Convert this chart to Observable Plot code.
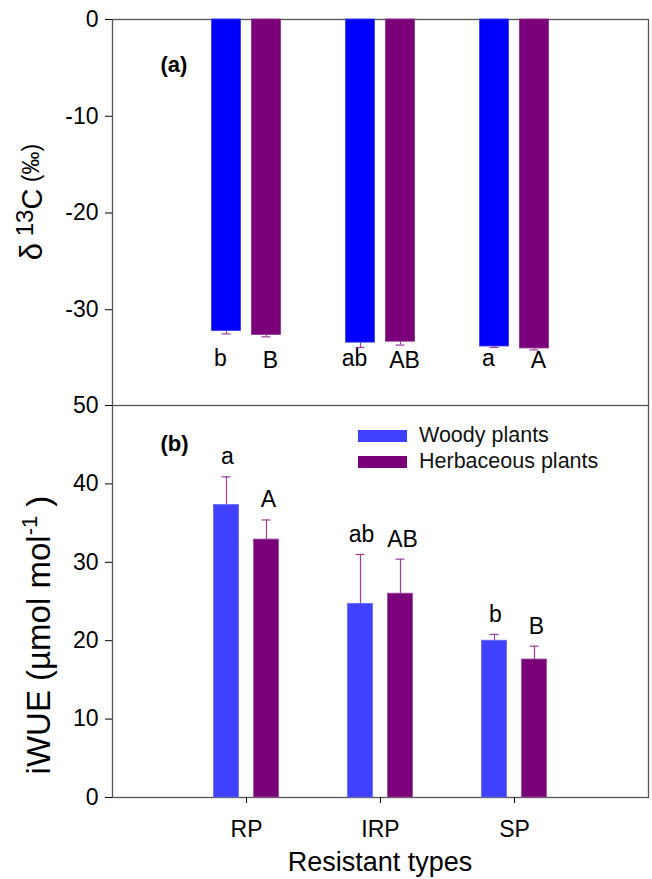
<!DOCTYPE html>
<html>
<head>
<meta charset="utf-8">
<script src="https://cdn.jsdelivr.net/npm/d3@7"></script>
<script src="https://cdn.jsdelivr.net/npm/@observablehq/plot@0.6"></script>
<style>
  body { margin: 0; background: white; }
  #wrap { position: relative; width: 652px; height: 879px; font-family: "Liberation Sans", Arial, sans-serif; }
  #wrap svg { position: absolute; left: 0; overflow: visible; }
  .leg { position: absolute; left: 358px; display: flex; align-items: center; font-size: 21.5px; color: #111; white-space: nowrap; }
  .sw { width: 49px; height: 12px; margin-right: 12px; }
</style>
</head>
<body>
<div id="wrap"></div>
<script>
// ---- data ----
const categories = ["RP", "IRP", "SP"];
const seriesNames = ["Woody plants", "Herbaceous plants"];

// panel (a): δ13C (‰)
const d13cWoody = [-32.2, -33.4, -33.8];
const d13cWoodySE = [0.3, 0.5, 0.1];
const d13cHerb = [-32.6, -33.3, -34.0];
const d13cHerbSE = [0.2, 0.35, 0.15];
const d13cWoodyLetters = ["b", "ab", "a"];
const d13cHerbLetters = ["B", "AB", "A"];

// panel (b): iWUE (µmol mol-1)
const wueWoody = [37.3, 24.7, 20.0];
const wueWoodySE = [3.6, 6.3, 0.8];
const wueHerb = [32.9, 26.0, 17.6];
const wueHerbSE = [2.5, 4.4, 1.7];
const wueWoodyLetters = ["a", "ab", "b"];
const wueHerbLetters = ["A", "AB", "B"];

const yTicksA = [0, -10, -20, -30];
const yTicksB = [0, 10, 20, 30, 40, 50];

// ---- helpers ----
const rows = (means, ses, letters) => categories.map((c, i) => ({cat: c, mean: means[i], se: ses[i], letter: letters[i]}));
const aW = rows(d13cWoody, d13cWoodySE, d13cWoodyLetters);
const aH = rows(d13cHerb, d13cHerbSE, d13cHerbLetters);
const bW = rows(wueWoody, wueWoodySE, wueWoodyLetters);
const bH = rows(wueHerb, wueHerbSE, wueHerbLetters);

const W = 652, ML = 112, MR = 4;
const band = (W - ML - MR) / (categories.length + 1);
const off = 20;
const errColor = "#9c3f9c";
const capW = 9;
const font = "'Liberation Sans', Arial, sans-serif";
const baseStyle = {fontFamily: font, fontSize: "23px", color: "black", background: "white", overflow: "visible"};
const xScale = {type: "band", domain: categories, paddingOuter: 0.5, paddingInner: 0, axis: null};
const fmt = d => String(d);

function seriesMarks(data, fill, dx, barW, dir, stroke) {
  const tip = d => d.mean + dir * d.se;
  const side = (band - barW) / 2;
  const capSide = (band - capW) / 2;
  return [
    Plot.barY(data, {x: "cat", y: "mean", fill, stroke: stroke, strokeWidth: 0.8, insetLeft: side, insetRight: side, dx}),
    Plot.ruleX(data, {x: "cat", y1: "mean", y2: tip, stroke: errColor, strokeWidth: 1.2, dx}),
    Plot.tickY(data, {x: "cat", y: tip, stroke: errColor, strokeWidth: 1.2, insetLeft: capSide, insetRight: capSide, dx})
  ];
}

const hasAxisMarks = typeof Plot.axisY === "function";

// ---- panel (a) ----
const plotA = Plot.plot({
  width: W, height: 406,
  marginTop: 19, marginBottom: 0, marginLeft: ML, marginRight: MR,
  style: baseStyle,
  x: xScale,
  y: {domain: [-40, 0], ticks: yTicksA, tickFormat: fmt, tickSize: 7, tickPadding: 7, line: true, label: null},
  marks: [
    Plot.frame({stroke: "#555", strokeWidth: 1.3}),
    ...seriesMarks(aW, "#0000ff", -off, 29, -1, "#3a3aff"),
    ...seriesMarks(aH, "#7a007a", off, 29, -1, "#8f2a8f"),
    Plot.text(aW, {x: "cat", y: () => -35, text: "letter", dx: -off - 6, fontSize: 23}),
    Plot.text(aH, {x: "cat", y: () => -35.3, text: "letter", dx: off + 4, fontSize: 23}),
    Plot.text(["(a)"], {frameAnchor: "top-left", text: d => d, dx: 48, dy: 37, fontSize: 22, fontWeight: "bold"}),
    ...(hasAxisMarks ? [Plot.axisY({ticks: yTicksA, tickFormat: fmt, tickSize: 7, tickPadding: 7, line: true, label: null, stroke: "black"})] : [])
  ]
});

// ---- panel (b) ----
const plotB = Plot.plot({
  width: W, height: 474,
  marginTop: 0, marginBottom: 82, marginLeft: ML, marginRight: MR,
  style: baseStyle,
  x: {...xScale, axis: hasAxisMarks ? null : "bottom", tickSize: 6, tickPadding: 17, label: null},
  y: {domain: [0, 50], ticks: yTicksB, tickFormat: fmt, tickSize: 7, tickPadding: 7, line: true, label: null},
  marks: [
    Plot.frame({stroke: "#555", strokeWidth: 1.3}),
    ...seriesMarks(bW, "#4040ff", -off, 25, 1, "#6a6aff"),
    ...seriesMarks(bH, "#7a007a", off, 25, 1, "#a050a0"),
    Plot.text(bW, {x: "cat", y: d => d.mean + d.se, text: "letter", dx: -off + 1, dy: -20, fontSize: 23}),
    Plot.text(bH, {x: "cat", y: d => d.mean + d.se, text: "letter", dx: off + 2, dy: -20, fontSize: 23}),
    Plot.text(["(b)"], {frameAnchor: "top-left", text: d => d, dx: 48, dy: 30, fontSize: 22, fontWeight: "bold"}),
    ...(hasAxisMarks ? [
      Plot.axisY({ticks: yTicksB, tickFormat: fmt, tickSize: 7, tickPadding: 7, line: true, label: null, stroke: "black"}),
      Plot.axisX({tickSize: 6, tickPadding: 17, line: true, label: null, fontSize: 23, stroke: "black"})
    ] : [])
  ]
});

const wrap = document.getElementById("wrap");
plotA.style.top = "0px";
plotB.style.top = "405px";
wrap.appendChild(plotA);
wrap.appendChild(plotB);

// ---- axis titles (real text with tspans) ----
const la = d3.select(plotA).append("text")
  .attr("transform", "translate(42,202) rotate(-90)")
  .attr("text-anchor", "middle")
  .attr("font-family", font)
  .attr("fill", "black");
la.append("tspan").attr("font-size", 31).text("δ");
la.append("tspan").attr("font-size", 24).attr("dy", -9).text(" 13");
la.append("tspan").attr("font-size", 29).attr("dy", 9).text("C");
la.append("tspan").attr("font-size", 23).attr("dy", -3).text(" (‰)");

const lb = d3.select(plotB).append("text")
  .attr("transform", "translate(50,230) rotate(-90)")
  .attr("text-anchor", "middle")
  .attr("font-family", font)
  .attr("fill", "black")
  .attr("font-size", 33);
lb.append("tspan").text("iWUE (µmol mol");
lb.append("tspan").attr("font-size", 22).attr("dy", -13).text("-1");
lb.append("tspan").attr("dy", 13).text(" )");

d3.select(plotB).append("text")
  .attr("x", 380).attr("y", 466)
  .attr("text-anchor", "middle")
  .attr("font-family", font)
  .attr("font-size", 27)
  .attr("fill", "black")
  .text("Resistant types");

// ---- legend ----
const legColors = ["#4040ff", "#7a007a"];
seriesNames.forEach((name, i) => {
  const row = document.createElement("div");
  row.className = "leg";
  row.style.top = (423 + i * 26) + "px";
  row.innerHTML = `<div class="sw" style="background:${legColors[i]}"></div><span>${name}</span>`;
  wrap.appendChild(row);
});
</script>
</body>
</html>
